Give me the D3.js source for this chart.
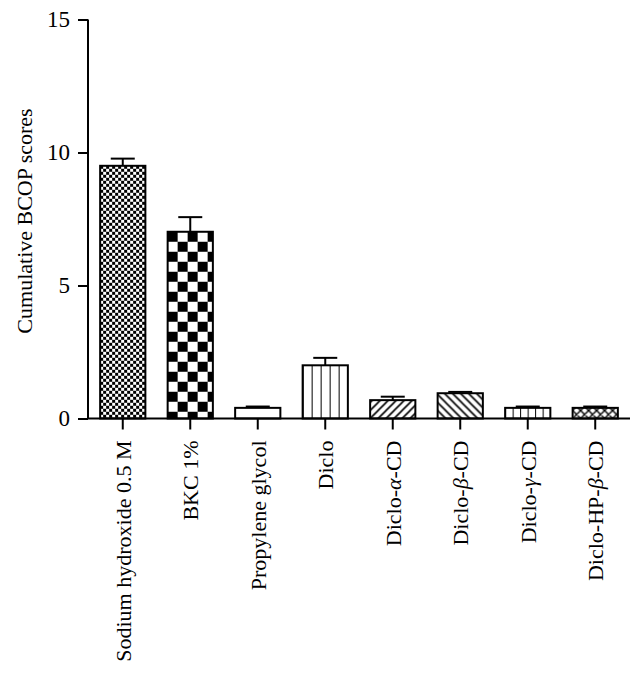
<!DOCTYPE html>
<html><head><meta charset="utf-8">
<script src="https://cdn.jsdelivr.net/npm/d3@7"></script>
<style>html,body{margin:0;padding:0;background:#fff;}</style>
</head><body>
<svg id="chart" width="644" height="674"></svg>
<script>
const categories = ["Sodium hydroxide 0.5 M","BKC 1%","Propylene glycol","Diclo","Diclo-α-CD","Diclo-β-CD","Diclo-γ-CD","Diclo-HP-β-CD"];
const means = [9.5, 7.02, 0.4, 2.0, 0.69, 0.95, 0.4, 0.4];
const errors = [0.27, 0.55, 0.05, 0.28, 0.13, 0.05, 0.05, 0.05];
const patterns = ["fineChecker","checker","none","vlines","fwd","back","vlinesFine","cross"];
const yTicks = [0, 5, 10, 15];

const svg = d3.select("#chart");
const font = "'Liberation Serif','DejaVu Serif',serif";
const x = d3.scaleBand().domain(categories).range([88, 630]).paddingInner(0.33).paddingOuter(0.18);
const y = d3.scaleLinear().domain([0, 15]).range([418.5, 19.5]);
const bw = x.bandwidth();

const defs = svg.append("defs");
categories.forEach((c, i) => {
  const p = patterns[i];
  if (p === "none") return;
  const bx = x(c), by = y(means[i]);
  let size, pat;
  if (p === "fineChecker") size = [6, 6];
  else if (p === "checker") size = [20, 20];
  else if (p === "vlines") size = [9, 10];
  else if (p === "vlinesFine") size = [7.5, 10];
  else size = [8, 8];
  pat = defs.append("pattern").attr("id", "pat" + i).attr("patternUnits", "userSpaceOnUse")
    .attr("x", bx).attr("y", p === "checker" || p === "fineChecker" ? by : y(0))
    .attr("width", size[0]).attr("height", size[1]);
  pat.append("rect").attr("width", size[0]).attr("height", size[1]).attr("fill", "#fff");
  if (p === "fineChecker" || p === "checker") {
    const h = size[0] / 2;
    pat.append("rect").attr("x", 0).attr("y", 0).attr("width", h).attr("height", h).attr("fill", "#000");
    pat.append("rect").attr("x", h).attr("y", h).attr("width", h).attr("height", h).attr("fill", "#000");
  } else if (p === "vlines" || p === "vlinesFine") {
    pat.append("line").attr("x1", 0).attr("x2", 0).attr("y1", 0).attr("y2", size[1]).attr("stroke", "#000").attr("stroke-width", 2);
  } else if (p === "fwd") {
    pat.append("path").attr("d", "M-2,10 L10,-2 M-2,2 L2,-2 M6,10 L10,6").attr("stroke", "#000").attr("stroke-width", 1.6);
  } else if (p === "back") {
    pat.append("path").attr("d", "M-2,-2 L10,10 M-2,6 L2,10 M6,-2 L10,2").attr("stroke", "#000").attr("stroke-width", 1.6);
  } else if (p === "cross") {
    pat.append("path").attr("d", "M-2,10 L10,-2 M-2,2 L2,-2 M6,10 L10,6 M-2,-2 L10,10 M-2,6 L2,10 M6,-2 L10,2").attr("stroke", "#000").attr("stroke-width", 1.4);
  }
});

// error bars
svg.append("g").selectAll("g").data(categories).join("g").each(function(c, i) {
  const g = d3.select(this);
  const cx = x(c) + bw / 2;
  g.append("line").attr("x1", cx).attr("x2", cx).attr("y1", y(means[i])).attr("y2", y(means[i] + errors[i]))
    .attr("stroke", "#000").attr("stroke-width", 2);
  g.append("line").attr("x1", cx - 12).attr("x2", cx + 12).attr("y1", y(means[i] + errors[i])).attr("y2", y(means[i] + errors[i]))
    .attr("stroke", "#000").attr("stroke-width", 2);
});

// bars
svg.append("g").selectAll("rect").data(categories).join("rect")
  .attr("x", d => x(d)).attr("width", bw)
  .attr("y", (d, i) => y(means[i])).attr("height", (d, i) => y(0) - y(means[i]))
  .attr("fill", (d, i) => patterns[i] === "none" ? "#fff" : `url(#pat${i})`)
  .attr("stroke", "#000").attr("stroke-width", 2);

// y axis
const yAxis = svg.append("g").attr("transform", "translate(88,0)")
  .call(d3.axisLeft(y).tickValues(yTicks).tickSize(10).tickPadding(8));
yAxis.select(".domain").attr("stroke-width", 2).attr("d", `M0,${y(15)}V${y(0)}`);
yAxis.selectAll(".tick line").attr("stroke-width", 2);
yAxis.selectAll("text").attr("font-family", font).attr("font-size", 23).attr("fill", "#000");

// x axis
const xAxis = svg.append("g").attr("transform", `translate(0,${y(0)})`)
  .call(d3.axisBottom(x).tickSize(11).tickPadding(0).tickFormat(""));
xAxis.select(".domain").attr("stroke-width", 2).attr("d", "M88,0H630");
xAxis.selectAll(".tick line").attr("stroke-width", 2);
xAxis.selectAll(".tick").each(function(c) {
  const t = d3.select(this).append("text")
    .attr("transform", "translate(8,22) rotate(-90)")
    .attr("text-anchor", "end").attr("font-family", font).attr("font-size", 22).attr("fill", "#000");
  const m = c.match(/^(.*-)([αβγ])(-CD)$/);
  if (m) {
    t.append("tspan").text(m[1]);
    t.append("tspan").attr("font-style", "italic").text(m[2]);
    t.append("tspan").text(m[3]);
  } else {
    t.text(c);
  }
});

// y title
svg.append("text").attr("transform", `translate(32,${(y(0)+y(15))/2 + 2}) rotate(-90)`)
  .attr("text-anchor", "middle").attr("font-family", font).attr("font-size", 22).attr("fill", "#000")
  .text("Cumulative BCOP scores");
</script>
</body></html>
